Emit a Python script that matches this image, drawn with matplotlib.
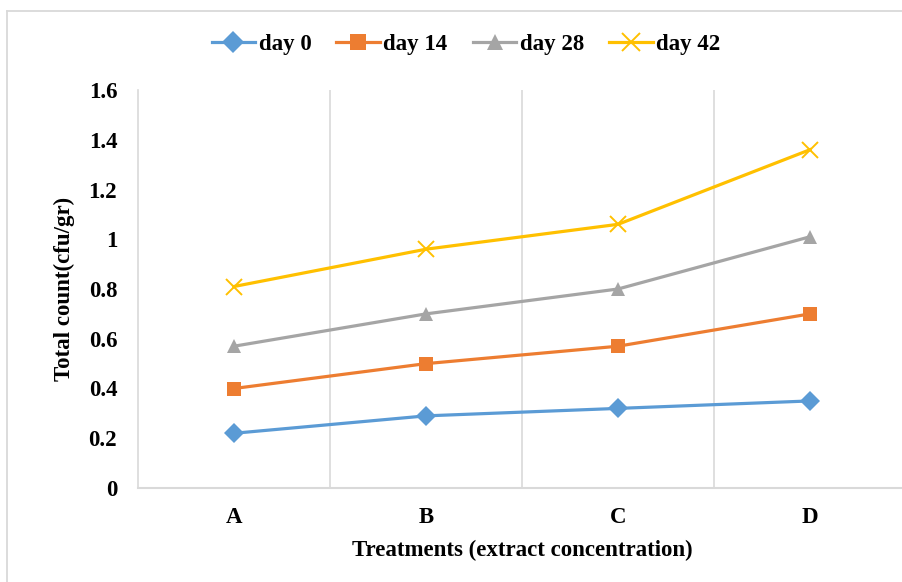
import matplotlib
matplotlib.use("Agg")
import matplotlib.pyplot as plt

categories = ["A", "B", "C", "D"]
series_names = ["day 0", "day 14", "day 28", "day 42"]
day0 = [0.22, 0.29, 0.32, 0.35]
day14 = [0.40, 0.50, 0.57, 0.70]
day28 = [0.57, 0.70, 0.80, 1.01]
day42 = [0.81, 0.96, 1.06, 1.36]
yticks = [0, 0.2, 0.4, 0.6, 0.8, 1, 1.2, 1.4, 1.6]
ytick_labels = ["0", "0.2", "0.4", "0.6", "0.8", "1", "1.2", "1.4", "1.6"]

colors = ["#5B9BD5", "#ED7D31", "#A5A5A5", "#FFC000"]
markers = ["D", "s", "^", "x"]
msizes = [10, 9.5, 10, 11]

plt.rcParams['font.family'] = ['Liberation Serif', 'DejaVu Serif']
plt.rcParams['font.weight'] = 'bold'
FS = 16.5

fig = plt.figure(figsize=(9.03, 5.82), dpi=100)
W, H = 903, 582
ax = fig.add_axes([138 / W, 1 - 488 / H, 768 / W, (488 - 90) / H])

# outer chart border (left and top edges visible)
fig.add_artist(plt.Line2D([7 / W, 7 / W], [0, 1 - 11 / H], transform=fig.transFigure,
                          color="#D9D9D9", linewidth=1.3))
fig.add_artist(plt.Line2D([7 / W, 1], [1 - 11 / H, 1 - 11 / H], transform=fig.transFigure,
                          color="#D9D9D9", linewidth=1.3))

x = list(range(len(categories)))
for vals, name, c, m, ms in zip([day0, day14, day28, day42], series_names, colors, markers, msizes):
    kw = dict(markeredgewidth=1.4) if m == "x" else dict(markeredgewidth=0)
    ax.plot(x, vals, color=c, linewidth=2.3, marker=m, markersize=ms,
            markerfacecolor=c, markeredgecolor=c, label=name, clip_on=False, zorder=3, **kw)

ax.set_xlim(-0.5, 3.5)
ax.set_ylim(0, 1.6)
ax.set_xticks(x)
ax.set_xticklabels(categories, fontsize=FS, fontweight='bold')
ax.set_yticks(yticks)
ax.set_yticklabels(ytick_labels, fontsize=FS, fontweight='bold')
ax.tick_params(axis='y', length=0, pad=15)
ax.tick_params(axis='x', length=0, pad=14)
for xv in [0.5, 1.5, 2.5]:
    ax.axvline(xv, color="#D9D9D9", linewidth=1.2, zorder=1)

for s in ["top", "right"]:
    ax.spines[s].set_visible(False)
ax.spines["left"].set_color("#D9D9D9")
ax.spines["left"].set_linewidth(1.2)
ax.spines["bottom"].set_color("#D9D9D9")
ax.spines["bottom"].set_linewidth(1.5)

ax.set_xlabel("Treatments (extract concentration)", fontsize=FS, fontweight='bold', labelpad=8)
ax.set_ylabel("Total count(cfu/gr)", fontsize=FS, fontweight='bold', labelpad=10)

leg = fig.legend(loc="center", bbox_to_anchor=(466 / W, 1 - 44 / H), ncol=4, frameon=False,
                 handlelength=1.9, columnspacing=1.1, handletextpad=0.15, markerscale=1.15,
                 prop={'weight': 'bold', 'size': FS})

fig.savefig("out.png", dpi=100)
